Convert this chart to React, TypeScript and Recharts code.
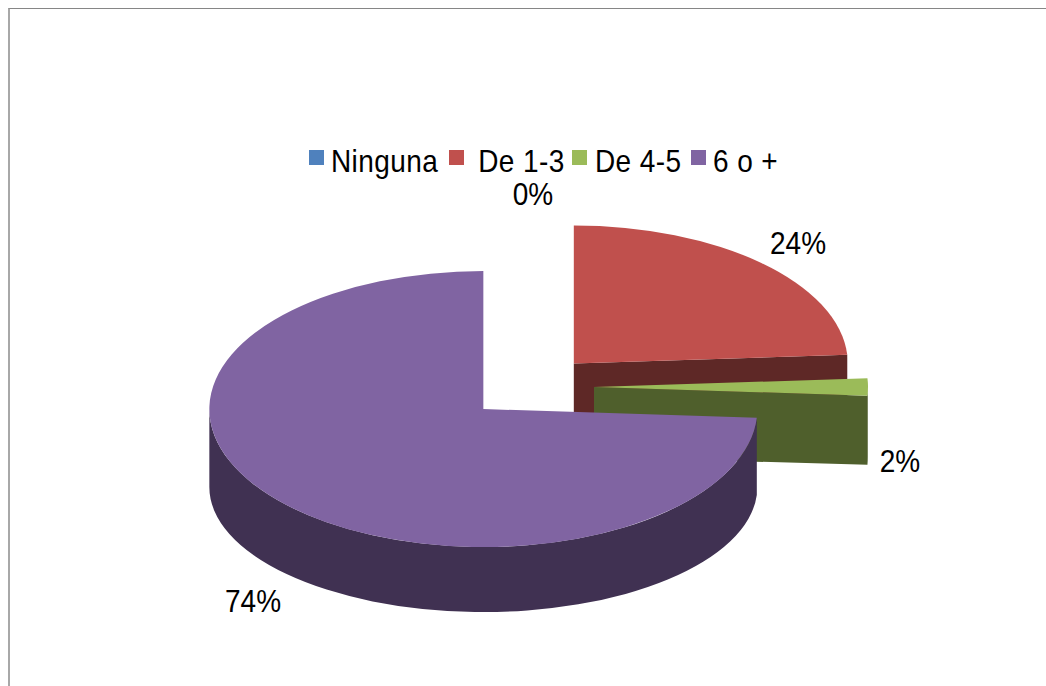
import { Legend, Pie, PieChart } from "recharts";

const categories = ["Ninguna", " De 1-3", "De 4-5", "6 o +"];
const percents = [0, 24, 2, 74];
const topColors = ["#4f81bd", "#c0504d", "#9bbb59", "#8064a2"];
const wallColors = ["#2c4d75", "#5e2826", "#4f5f2c", "#403152"];

const chartData = categories.map((name, i) => ({
  name,
  value: percents[i],
  fill: topColors[i],
}));

// pie geometry, the disc is tilted so radii differ per axis
const CX = 530;
const CY = 387;
const RADIUS = 274;
const TOP_RY = 138;
const BOTTOM_RY = 125;
const EXPLODE = 64;
// walls get deeper toward the viewer
const wallDepth = [66, 66, 70, 78];
// data label centres relative to the pie centre
const labelOffsets = [
  [3, -193],
  [268, -144],
  [370, 74],
  [-277, 214],
];
// legend swatch and text left edges
const legendSwatchX = [309, 449, 572, 691];
const legendTextX = [331, 470, 595, 713];

const FONT = '"Liberation Sans", Arial, sans-serif';
const FONT_SIZE = 28;
const TEXT_STRETCH = 1.14;

function Slice3D(props: any) {
  const { startAngle, endAngle, index, fill } = props;
  if (startAngle === endAngle) return <g />;

  const a0 = 90 - startAngle;
  const a1 = 90 - endAngle;
  const mid = ((a0 + a1) / 2) * (Math.PI / 180);
  const ox = CX + EXPLODE * Math.sin(mid);
  const oy = CY - EXPLODE * (TOP_RY / RADIUS) * Math.cos(mid);
  const depth = wallDepth[index];

  // a = clockwise degrees from 12 o'clock
  const top = (a: number) => {
    const t = (a * Math.PI) / 180;
    return [ox + RADIUS * Math.sin(t), oy - TOP_RY * Math.cos(t)];
  };
  const bottom = (a: number) => {
    const t = (a * Math.PI) / 180;
    return [ox + RADIUS * Math.sin(t), oy + depth - BOTTOM_RY * Math.cos(t)];
  };

  const [sx, sy] = top(a0);
  const [ex, ey] = top(a1);
  const large = a1 - a0 > 180 ? 1 : 0;
  const face = `M${ox},${oy} L${sx},${sy} A${RADIUS},${TOP_RY} 0 ${large} 1 ${ex},${ey} Z`;

  const walls: string[] = [];

  // straight cut at the end of the slice, seen only when it faces down
  if (a1 > 0 && a1 < 180) {
    const [bx, by] = bottom(a1);
    walls.push(`M${ox},${oy} L${ex},${ey} L${bx},${by} L${ox},${oy + depth} Z`);
  }

  // rounded outer wall, front half only
  const w0 = Math.max(a0, 90);
  const w1 = Math.min(a1, 270);
  if (w1 > w0) {
    const [tx0, ty0] = top(w0);
    const [tx1, ty1] = top(w1);
    const [bx0, by0] = bottom(w0);
    const [bx1, by1] = bottom(w1);
    walls.push(
      `M${tx0},${ty0} A${RADIUS},${TOP_RY} 0 0 1 ${tx1},${ty1} L${bx1},${by1} A${RADIUS},${BOTTOM_RY} 0 0 0 ${bx0},${by0} Z`,
    );
  }

  return (
    <g>
      {walls.map((d) => (
        <path key={d} d={d} fill={wallColors[index]} />
      ))}
      <path d={face} fill={fill} />
    </g>
  );
}

function SliceLabel(props: any) {
  const { index, value } = props;
  const [dx, dy] = labelOffsets[index];
  return (
    <text
      transform={`translate(${CX + dx},${CY + dy}) scale(1,${TEXT_STRETCH})`}
      textAnchor="middle"
      dominantBaseline="central"
      fontFamily={FONT}
      fontSize={FONT_SIZE}
      fill="#000"
    >
      {`${value}%`}
    </text>
  );
}

function LegendRow({ payload }: any) {
  return (
    <div style={{ position: "relative", height: 40 }}>
      {(payload ?? []).map((entry: any, i: number) => (
        <div key={entry.value}>
          <span
            style={{
              position: "absolute",
              left: legendSwatchX[i],
              top: 4,
              width: 14.5,
              height: 15,
              background: entry.color,
            }}
          />
          <span
            style={{
              position: "absolute",
              left: legendTextX[i],
              top: 0,
              fontFamily: FONT,
              fontSize: FONT_SIZE,
              letterSpacing: 0.4,
              color: "#000",
              whiteSpace: "pre",
              transform: `scaleY(${TEXT_STRETCH})`,
            }}
          >
            {entry.value}
          </span>
        </div>
      ))}
    </div>
  );
}

export default function App() {
  return (
    <div style={{ position: "absolute", left: 0, top: 0, width: 1046, height: 686, background: "#fff" }}>
      <div
        style={{
          position: "absolute",
          left: 8,
          top: 8,
          width: 1038,
          height: 678,
          boxSizing: "border-box",
          borderTop: "1px solid #868686",
          borderLeft: "2px solid #a8a8a8",
        }}
      />
      <PieChart width={1046} height={686} style={{ position: "absolute", left: 0, top: 0 }}>
        <Legend
          verticalAlign="top"
          itemSorter={null}
          content={<LegendRow />}
          wrapperStyle={{ left: 0, top: 146, width: 1046 }}
        />
        <Pie
          data={chartData}
          dataKey="value"
          nameKey="name"
          cx={CX}
          cy={CY}
          outerRadius={RADIUS}
          startAngle={90}
          endAngle={-270}
          stroke="none"
          shape={Slice3D}
          label={SliceLabel}
          labelLine={false}
          isAnimationActive={false}
        />
      </PieChart>
    </div>
  );
}
